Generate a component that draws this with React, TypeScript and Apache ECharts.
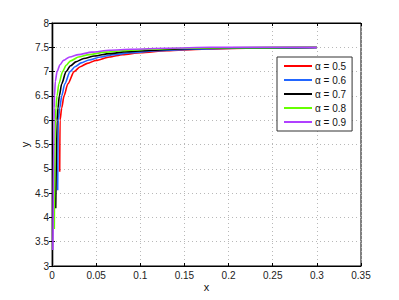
import React, { useEffect, useRef } from "react";
import * as echarts from "echarts";

const seriesNames = ["α = 0.5", "α = 0.6", "α = 0.7", "α = 0.8", "α = 0.9"];
const seriesColors = ["#ff0000", "#2266ff", "#000000", "#66ff00", "#b040ff"];

const xRed = [0.0087, 0.0091, 0.011, 0.0136, 0.018, 0.025, 0.032, 0.04, 0.05, 0.065, 0.08, 0.1, 0.13, 0.17, 0.22, 0.3];
const yRed = [4.94, 6.0, 6.25, 6.5, 6.75, 7.0, 7.1, 7.17, 7.23, 7.3, 7.35, 7.39, 7.43, 7.46, 7.48, 7.49];
const xBlue = [0.0064, 0.0071, 0.0088, 0.011, 0.0145, 0.0204, 0.026, 0.033, 0.042, 0.055, 0.07, 0.09, 0.12, 0.16, 0.21, 0.3];
const yBlue = [4.56, 6.0, 6.25, 6.5, 6.75, 7.0, 7.1, 7.18, 7.24, 7.3, 7.35, 7.39, 7.43, 7.46, 7.48, 7.49];
const xBlack = [0.0042, 0.0057, 0.0068, 0.0083, 0.011, 0.0159, 0.021, 0.027, 0.036, 0.048, 0.065, 0.085, 0.115, 0.15, 0.2, 0.3];
const yBlack = [4.19, 6.0, 6.25, 6.5, 6.75, 7.0, 7.12, 7.2, 7.27, 7.32, 7.37, 7.41, 7.44, 7.47, 7.49, 7.5];
const xGreen = [0.0026, 0.0037, 0.0045, 0.0057, 0.0078, 0.012, 0.016, 0.021, 0.03, 0.042, 0.06, 0.08, 0.11, 0.15, 0.2, 0.3];
const yGreen = [3.76, 6.0, 6.25, 6.5, 6.75, 7.0, 7.13, 7.22, 7.3, 7.35, 7.4, 7.43, 7.46, 7.48, 7.49, 7.5];
const xPurple = [0.001, 0.0023, 0.0025, 0.0028, 0.0038, 0.0057, 0.009, 0.013, 0.02, 0.03, 0.045, 0.065, 0.09, 0.13, 0.18, 0.3];
const yPurple = [3.33, 6.0, 6.25, 6.5, 6.8, 7.0, 7.14, 7.23, 7.3, 7.35, 7.4, 7.44, 7.46, 7.48, 7.5, 7.5];

const xs = [xRed, xBlue, xBlack, xGreen, xPurple];
const ys = [yRed, yBlue, yBlack, yGreen, yPurple];

const FONT = "'Liberation Sans', Arial, sans-serif";

export default function App() {
  const ref = useRef<HTMLDivElement>(null);
  useEffect(() => {
    document.body.style.margin = "0";
    const chart = echarts.init(ref.current!, null, { renderer: "svg" });
    const tickStyle = { inside: true, length: 3, lineStyle: { color: "#000" } };
    const gridLine = { show: true, lineStyle: { color: "#b8b8b8", type: [1, 3], width: 1 } };
    chart.setOption({
      animation: false,
      backgroundColor: "#fff",
      grid: { left: 52, top: 23, right: 38, bottom: 34, show: true, borderColor: "#000", borderWidth: 1 },
      legend: {
        orient: "vertical",
        left: 277,
        top: 57,
        data: seriesNames,
        icon: "rect",
        itemWidth: 28,
        itemHeight: 2,
        itemGap: 4,
        padding: [4, 6, 4, 7],
        backgroundColor: "#fff",
        borderColor: "#333",
        borderWidth: 1,
        textStyle: { fontSize: 10, lineHeight: 10, color: "#111", fontFamily: FONT, padding: [0, 0, 0, -2] },
      },
      xAxis: [
        {
          type: "value",
          min: 0,
          max: 0.35,
          interval: 0.05,
          name: "x",
          nameLocation: "middle",
          nameGap: 15,
          nameMoveOverlap: false,
          nameTextStyle: { fontSize: 11, color: "#111", fontFamily: FONT },
          axisLine: { show: true, lineStyle: { color: "#000" } },
          axisTick: tickStyle,
          axisLabel: { fontSize: 10, color: "#222", fontFamily: FONT, margin: 4 },
          splitLine: gridLine,
        },
        {
          type: "value",
          position: "top",
          min: 0,
          max: 0.35,
          interval: 0.05,
          axisLine: { show: true, lineStyle: { color: "#000" } },
          axisTick: tickStyle,
          axisLabel: { show: false },
          splitLine: { show: false },
        },
      ],
      yAxis: [
        {
          type: "value",
          min: 3,
          max: 8,
          interval: 0.5,
          name: "y",
          nameLocation: "middle",
          nameGap: 22,
          nameMoveOverlap: false,
          nameTextStyle: { fontSize: 11, color: "#111", fontFamily: FONT },
          axisLine: { show: true, lineStyle: { color: "#999", width: 2.5 } },
          axisTick: tickStyle,
          axisLabel: { fontSize: 10, color: "#222", fontFamily: FONT, margin: 3 },
          splitLine: gridLine,
        },
        {
          type: "value",
          position: "right",
          min: 3,
          max: 8,
          interval: 0.5,
          axisLine: { show: true, lineStyle: { color: "#000" } },
          axisTick: tickStyle,
          axisLabel: { show: false },
          splitLine: { show: false },
        },
      ],
      series: seriesNames.map((name, i) => ({
        name,
        type: "line",
        xAxisIndex: 0,
        yAxisIndex: 0,
        data: xs[i].map((x, j) => [x, ys[i][j]]),
        showSymbol: false,
        smooth: 0.25,
        smoothMonotone: "x",
        color: seriesColors[i],
        lineStyle: { width: 1.6, color: seriesColors[i] },
      })),
    });
    return () => chart.dispose();
  }, []);
  return <div ref={ref} style={{ width: 399, height: 300 }} />;
}
